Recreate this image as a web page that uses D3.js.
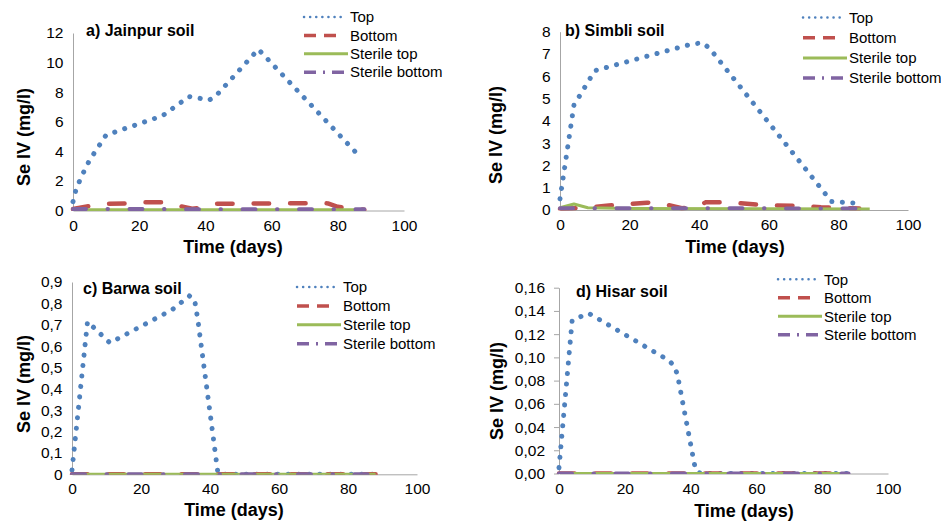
<!DOCTYPE html>
<html>
<head>
<meta charset="utf-8">
<script src="https://cdn.jsdelivr.net/npm/d3@7"></script>
<style>
    body { margin: 0; background: #fff; }
    text { font-family: "Liberation Sans", Arial, sans-serif; fill: #000; }
</style>
</head>
<body>
<svg id="chart" width="941" height="524"></svg>
<script>

// Se IV (mg/l) against time (days): [day, value]
var jainpurTop = [[0, 0.6], [1, 1.5], [3, 2.5], [5, 3.4], [10, 5.1], [27, 6.4], [35, 7.7], [38, 7.6], [41, 7.45], [43, 7.7], [56, 10.9], [86, 3.8]];
var jainpurBottom = [[0, 0.1], [5, 0.3], [9, 0.45], [16, 0.48], [21, 0.55], [27, 0.55], [31, 0.35], [36, 0.12], [39, 0.2], [42, 0.45], [75, 0.5], [77, 0.48], [80, 0.25], [84, 0.12], [88, 0.05]];
var jainpurSterileTop = [[0, 0.05], [88, 0.05]];
var jainpurSterileBottom = [[0, 0.1], [88, 0.08]];

var simbliTop = [[0, 0.5], [4, 4.7], [10, 6.25], [25, 6.9], [38, 7.45], [41, 7.5], [43, 7.25], [78, 0.38], [86, 0.3]];
var simbliBottom = [[0, 0.05], [7, 0.1], [14, 0.2], [25, 0.33], [29, 0.3], [35, 0.08], [38, 0.1], [42, 0.35], [46, 0.35], [52, 0.3], [58, 0.22], [68, 0.19], [75, 0.12], [86, 0.07]];
var simbliSterileTop = [[0, 0.1], [4, 0.27], [8, 0.1], [20, 0.07], [89, 0.05]];
var simbliSterileBottom = [[0, 0.08], [88, 0.07]];

var barwaTop = [[0, 0.02], [4.5, 0.715], [11, 0.615], [29, 0.77], [34, 0.835], [35.5, 0.82], [36.5, 0.72], [42.3, 0.005], [44, 0], [88, 0]];
var barwaBottom = [[0, 0], [88, 0]];
var barwaSterileTop = [[0, 0], [88, 0]];
var barwaSterileBottom = [[0, 0], [87, 0]];

var hisarTop = [[0, 0.005], [4, 0.132], [9, 0.138], [33, 0.098], [35, 0.093], [36, 0.085], [41.5, 0.003], [43, 0], [88, 0]];
var hisarBottom = [[0, 0], [88, 0]];
var hisarSterileTop = [[0, 0], [88, 0]];
var hisarSterileBottom = [[0, 0], [88, 0]];

var seriesNames = ["Top", "Bottom", "Sterile top", "Sterile bottom"];
var xTicks = [0, 20, 40, 60, 80, 100];

// line styles for plot and legend (Excel-like)
var lineStyles = [
    { color: "#4f81bd", width: 5, dash: "0.1 10.4", cap: "round", lw: 2.5, ldash: "0.1 6", lcap: "round", lend: -3 },
    { color: "#c0504d", width: 4.5, dash: "15.5 21", cap: "round", lw: 3.5, ldash: "12 8", lcap: "butt", lend: -13 },
    { color: "#9bbb59", width: 3, dash: null, cap: "butt", lw: 3, ldash: null, lcap: "butt", lend: -1 },
    { color: "#8064a2", width: 4, dash: "13 21.5 0.5 21.5", cap: "round", lw: 3.5, ldash: "12 7 2 7", lcap: "butt", lend: -3 }
];

function commaFormat(digits) {
    var f = d3.format("." + digits + "f");
    return function (v) { return f(v).replace(".", ","); };
}

var panels = [
    {
        id: "a", title: "a) Jainpur soil", series: [jainpurTop, jainpurBottom, jainpurSterileTop, jainpurSterileBottom],
        yTicks: d3.range(0, 13, 2), yMax: 12, fmt: d3.format("d"), tickLen: 0,
        xr: [73, 404], yr: [210.5, 33], titleX: 86, titleY: 36,
        yTitle: [24, 137], xTitle: [233, 253], legX: 349, legY: 17, legStep: 18.4
    },
    {
        id: "b", title: "b) Simbli soil", series: [simbliTop, simbliBottom, simbliSterileTop, simbliSterileBottom],
        yTicks: d3.range(0, 9, 1), yMax: 8, fmt: d3.format("d"), tickLen: 0,
        xr: [560, 908], yr: [210, 31.7], titleX: 565, titleY: 36,
        yTitle: [496, 135], xTitle: [735, 253], legX: 848, legY: 17.5, legStep: 20.2
    },
    {
        id: "c", title: "c) Barwa soil", series: [barwaTop, barwaBottom, barwaSterileTop, barwaSterileBottom],
        yTicks: d3.range(0, 10).map(function (i) { return i / 10; }), yMax: 0.9,
        fmt: function (v) { return v === 0 ? "0" : commaFormat(1)(v); }, tickLen: 0,
        xr: [72, 417], yr: [474.3, 282], titleX: 83, titleY: 294,
        yTitle: [24, 384], xTitle: [234, 516], legX: 342, legY: 287, legStep: 18.9
    },
    {
        id: "d", title: "d) Hisar soil", series: [hisarTop, hisarBottom, hisarSterileTop, hisarSterileBottom],
        yTicks: d3.range(0, 9).map(function (i) { return i * 0.02; }), yMax: 0.16,
        fmt: commaFormat(2), tickLen: 5,
        xr: [559, 888], yr: [473.5, 287.7], titleX: 576, titleY: 297,
        yTitle: [497, 391], xTitle: [744, 517], legX: 823, legY: 279.3, legStep: 18.5
    }
];

var svg = d3.select("#chart");
var defs = svg.append("defs");

function drawPanel(p) {
    var x = d3.scaleLinear().domain([0, 100]).range(p.xr);
    var y = d3.scaleLinear().domain([0, p.yMax]).range(p.yr);
    var g = svg.append("g");

    // Excel clips series at the plot area edge
    defs.append("clipPath").attr("id", "clip-" + p.id)
        .append("rect")
        .attr("x", x(0) - 6).attr("y", y(p.yMax) - 10)
        .attr("width", x(100) - x(0) + 12).attr("height", y(0) - y(p.yMax) + 10.5);

    var yAxis = g.append("g")
        .attr("transform", "translate(" + x(0) + ",0)")
        .call(d3.axisLeft(y).tickValues(p.yTicks).tickFormat(p.fmt)
            .tickSize(p.tickLen).tickSizeOuter(0).tickPadding(9.5 - p.tickLen * 0.1));
    var xAxis = g.append("g")
        .attr("transform", "translate(0," + y(0) + ")")
        .call(d3.axisBottom(x).tickValues(xTicks).tickSize(0).tickPadding(9).tickFormat(d3.format("d")));

    [yAxis, xAxis].forEach(function (a) {
        a.attr("font-size", null).attr("font-family", null);
        a.select(".domain").attr("stroke", "#a6a6a6");
        a.selectAll(".tick line").attr("stroke", "#a6a6a6");
        a.selectAll("text").style("font-size", "15.5px");
    });

    var line = d3.line()
        .x(function (d) { return x(d[0]); })
        .y(function (d) { return y(d[1]); });

    var plot = g.append("g").attr("clip-path", "url(#clip-" + p.id + ")");

    p.series.forEach(function (s, i) {
        var st = lineStyles[i];
        plot.append("path")
            .datum(s)
            .attr("d", line)
            .attr("fill", "none")
            .attr("stroke", st.color)
            .attr("stroke-width", st.width)
            .attr("stroke-dasharray", st.dash)
            .attr("stroke-linecap", st.cap)
            .attr("stroke-linejoin", "round");
    });

    g.append("text")
        .attr("x", p.titleX)
        .attr("y", p.titleY)
        .style("font-size", "16px")
        .style("font-weight", "bold")
        .text(p.title);

    g.append("text")
        .attr("transform", "translate(" + p.yTitle[0] + "," + p.yTitle[1] + ") rotate(-90)")
        .attr("text-anchor", "middle")
        .attr("dy", "0.35em")
        .style("font-size", "18px")
        .style("font-weight", "bold")
        .text("Se IV (mg/l)");

    g.append("text")
        .attr("x", p.xTitle[0])
        .attr("y", p.xTitle[1])
        .attr("text-anchor", "middle")
        .style("font-size", "18px")
        .style("font-weight", "bold")
        .text("Time (days)");

    // legend
    var leg = g.selectAll("g.legend")
        .data(seriesNames)
        .enter().append("g")
        .attr("class", "legend")
        .attr("transform", function (d, i) {
            return "translate(" + p.legX + "," + (p.legY + i * p.legStep) + ")";
        });

    leg.append("line")
        .attr("x1", -45)
        .attr("x2", function (d, i) { return lineStyles[i].lend; })
        .attr("y1", 0).attr("y2", 0)
        .attr("stroke", function (d, i) { return lineStyles[i].color; })
        .attr("stroke-width", function (d, i) { return lineStyles[i].lw; })
        .attr("stroke-dasharray", function (d, i) { return lineStyles[i].ldash; })
        .attr("stroke-linecap", function (d, i) { return lineStyles[i].lcap; });

    leg.append("text")
        .attr("x", 1)
        .attr("dy", "0.35em")
        .style("font-size", "15px")
        .text(function (d) { return d; });
}

panels.forEach(drawPanel);

</script>
</body>
</html>
